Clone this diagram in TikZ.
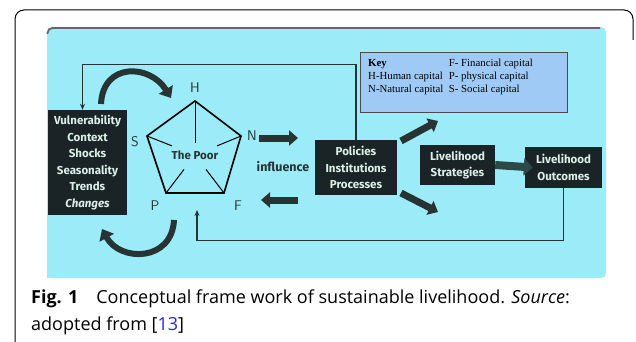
\documentclass[tikz,border=0pt]{standalone}
\usepackage{fontspec}
\setmainfont{Liberation Serif}
\newfontfamily\capfont{Open Sans}
\newfontfamily\boxfont{Fira Sans}
\usetikzlibrary{arrows.meta,calc,positioning}
\definecolor{panel}{RGB}{155,236,248}
\definecolor{keyblue}{RGB}{160,202,246}
\definecolor{boxdark}{RGB}{26,36,38}
\definecolor{boxtext}{RGB}{220,240,232}
\definecolor{inkdark}{RGB}{40,52,52}
\definecolor{slate}{RGB}{44,72,72}
\definecolor{citeblue}{RGB}{40,40,225}
\tikzstyle{darkbox}=[fill=boxdark,text=boxtext,align=center,inner sep=2pt,
  font=\boxfont\bfseries\fontsize{11.5}{16.5}\selectfont]
\tikzstyle{keybox}=[draw=black!70,fill=keyblue,line width=0.6pt,anchor=north west]
\tikzstyle{corner}=[text=inkdark,font=\sffamily\fontsize{14}{14}\selectfont]
\tikzstyle{fat}=[line width=7pt,draw=inkdark,-{Triangle[length=9pt,width=15pt]}]
\tikzstyle{curl}=[line width=6pt,draw=inkdark,-{Triangle[length=10pt,width=16pt]}]
\tikzstyle{feed}=[line width=1.3pt,draw=inkdark,-{Stealth[length=6pt,width=5pt]}]

\begin{document}
\begin{tikzpicture}[x=1pt,y=-1pt]
  \useasboundingbox (0,0) rectangle (636,342);
  % figure frame and panel
  \draw[black,line width=1pt,rounded corners=9pt] (15,342) -- (15,10) -- (633,10) -- (633,40);
  \fill[panel,rounded corners=5pt] (47,278) -- (47,27) -- (606,27) -- (606,278) -- cycle;
  \fill[panel] (47,260) rectangle (80,278);
  \draw[black!60,line width=1.8pt,rounded corners=5pt] (47.5,34) -- (47.5,28) -- (600,28);

  % key
  \node[keybox,minimum width=207pt,minimum height=60pt] (key) at (360,52) {};
  \node[anchor=north west,inner sep=0pt,font=\fontsize{10.8}{13}\selectfont]
    at ([xshift=8pt,yshift=-5pt]key.north west)
    {\begin{tabular}{@{}l@{\ \ }l@{}}
      \textbf{Key} & F- Financial capital\\
      H-Human capital & P- physical capital\\
      N-Natural capital & S- Social capital
    \end{tabular}};

  % boxes
  \node[darkbox,minimum width=79pt,minimum height=105pt] (vul) at (87.5,162.5)
    {Vulnerability\\Context\\Shocks\\Seasonality\\Trends\\\textit{Changes}};
  \node[darkbox,minimum width=82pt,minimum height=55pt] (pol) at (356,167.5)
    {Policies\\Institutions\\Processes};
  \node[darkbox,minimum width=75pt,minimum height=40pt] (strat) at (457.5,165)
    {Livelihood\\Strategies};
  \node[darkbox,minimum width=77pt,minimum height=41pt] (out) at (563.5,167.5)
    {Livelihood\\Outcomes};

  % pentagon of capitals
  \coordinate (hv) at (195,101);
  \coordinate (nv) at (241,136);
  \coordinate (fv) at (224,193);
  \coordinate (pv) at (166,193);
  \coordinate (sv) at (147,136);
  \coordinate (poor) at (195,155);
  \draw[line width=1.6pt,line join=miter] (hv) -- (nv) -- (fv) -- (pv) -- (sv) -- cycle;
  \draw[line width=1pt] (hv) -- ($(hv)!0.78!(poor)$);
  \draw[line width=1pt] (sv) -- ($(sv)!0.52!(poor)$);
  \draw[line width=1pt] (nv) -- ($(nv)!0.52!(poor)$);
  \draw[line width=1pt] (pv) -- ($(pv)!0.62!(poor)$);
  \draw[line width=1pt] (fv) -- ($(fv)!0.62!(poor)$);
  \node[text=inkdark,font=\boxfont\bfseries\fontsize{11.5}{12}\selectfont] (poorlbl) at (poor) {The Poor};
  \node[corner] (hl) at (195,88) {H};
  \node[corner] (sl) at (135,142) {S};
  \node[corner] (nl) at (252,136) {N};
  \node[corner] (pl) at (155,206) {P};
  \node[corner] (fl) at (238,206) {F};

  % influence arrows
  \coordinate (ninA) at (259,138);
  \coordinate (ninB) at (298,138);
  \coordinate (backA) at (298,200);
  \coordinate (backB) at (261,200);
  \draw[fat] (ninA) -- (ninB);
  \draw[fat] (backA) -- (backB);
  \node[text=inkdark,font=\boxfont\bfseries\fontsize{12.5}{13}\selectfont] (infl) at (283,167) {influence};

  % arrows out of policies
  \coordinate (upA) at (401,141);
  \coordinate (upB) at (438,121);
  \coordinate (dnA) at (401,193);
  \coordinate (dnB) at (438,212);
  \draw[fat] (upA) -- (upB);
  \draw[fat] (dnA) -- (dnB);
  \draw[line width=8pt,draw=slate,-{Triangle[length=9pt,width=17pt]}] (strat.east) -- ([xshift=8pt]out.west);

  % cycling arrows
  \coordinate (ctA) at (101,104);
  \coordinate (ctB) at (171,98);
  \coordinate (cbA) at (174,220);
  \coordinate (cbB) at (102,229);
  \draw[curl] (ctA) .. controls (103,62) and (150,64) .. (ctB);
  \draw[curl] (cbA) .. controls (172,262) and (120,262) .. (cbB);

  % feedback lines
  \draw[feed] (pol.north) -- ++(0,-75) -| ([xshift=-5pt]vul.north);
  \coordinate (fbend) at (197,210);
  \draw[feed] (out.south) -- ++(0,52) -| (fbend);

  % caption
  \node[anchor=base west,inner sep=0pt,align=left,
    font=\capfont\fontsize{18}{27}\selectfont] (cap) at (31,330)
    {\textbf{Fig. 1}\quad Conceptual frame work of sustainable livelihood. \textit{Source}:\\
     adopted from [\textcolor{citeblue}{13}]};
\end{tikzpicture}
\end{document}
